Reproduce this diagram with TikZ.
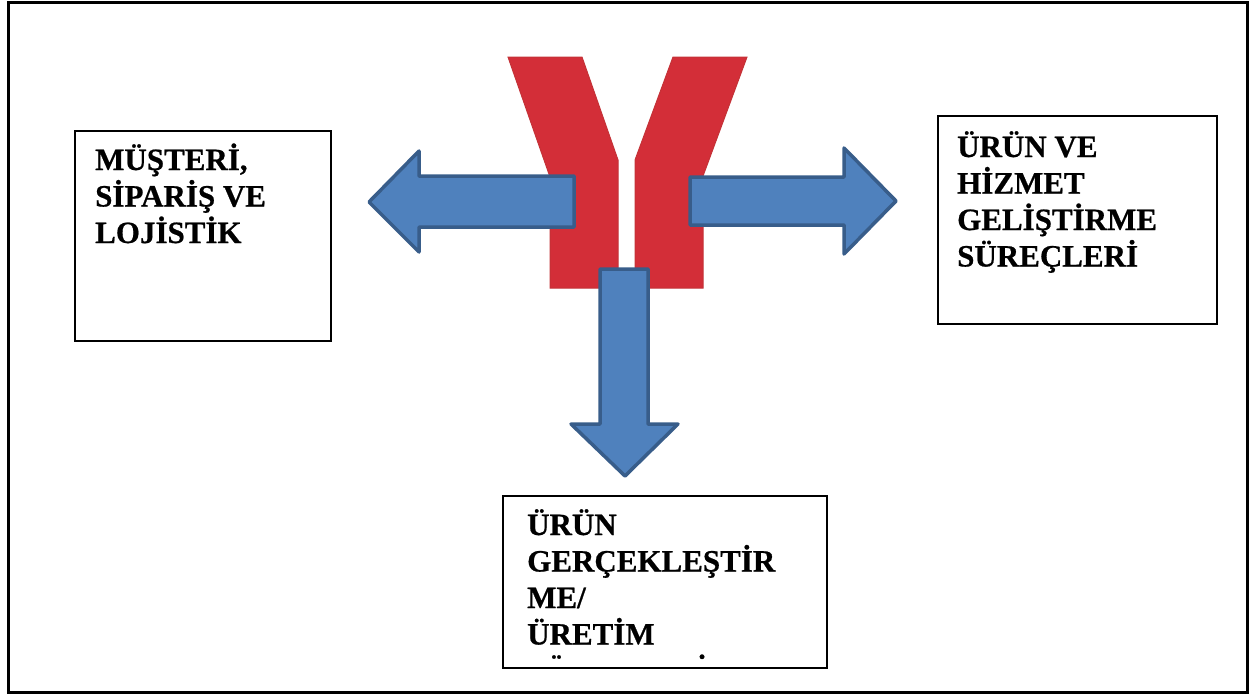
\documentclass[tikz,border=0pt]{standalone}
\usepackage{fontspec}
\setmainfont[BoldFeatures={FakeBold=0.6}]{Liberation Serif}
\definecolor{yred}{RGB}{211,46,56}
\definecolor{yedge}{RGB}{196,50,55}
\definecolor{afill}{RGB}{79,129,189}
\definecolor{aline}{RGB}{56,93,138}
\tikzset{
  boxnode/.style={draw=black, line width=1.5pt, anchor=north west, inner sep=0pt, fill=white},
  txt/.style={anchor=base west, inner sep=0pt, font=\bfseries\fontsize{31}{36.5}\selectfont},
  bigarrow/.style={fill=afill, draw=aline, line width=3.5pt, line join=round},
  yarm/.style={fill=yred, draw=yedge, line width=1pt}
}
\begin{document}
\begin{tikzpicture}[x=1pt,y=-1pt]
\useasboundingbox (0,0) rectangle (1249,697);
\draw[line width=3pt] (8,2.5) rectangle (1247,692.5);
% Y shape
\filldraw[yarm] (508,57) -- (582,57) -- (618,160) -- (618,288) -- (550,288) -- (550,177) -- cycle;
\filldraw[yarm] (673,57) -- (747,57) -- (703,176) -- (703,288) -- (635,288) -- (635,160) -- cycle;
% boxes
\node[boxnode, minimum width=256pt, minimum height=210pt] (lbox) at (74,130) {};
\node[boxnode, minimum width=279pt, minimum height=208pt] (rbox) at (937,115) {};
\node[boxnode, minimum width=324pt, minimum height=172pt] (bbox) at (502,495) {};
% arrows
\draw[bigarrow] (574,176) -- (419,176) -- (419,151) -- (369,202) -- (419,252) -- (419,227) -- (574,227) -- cycle;
\draw[bigarrow] (690,177) -- (844,177) -- (844,148) -- (896,201) -- (844,254) -- (844,225) -- (690,225) -- cycle;
\draw[bigarrow] (600,269) -- (648,269) -- (648,424) -- (678,424) -- (625,476) -- (571,424) -- (600,424) -- cycle;
% texts
\node[txt] (ltext) at (95,170) {\vtop{\hbox{MÜŞTERİ,}\hbox{SİPARİŞ VE}\hbox{LOJİSTİK}}};
\node[txt] (rtext) at (957,157) {\vtop{\hbox{ÜRÜN VE}\hbox{HİZMET}\hbox{GELİŞTİRME}\hbox{SÜREÇLERİ}}};
\begin{scope}
\clip (503,496) rectangle (825,659);
\node[txt] (btext) at (527,535) {\vtop{\hbox{ÜRÜN}\hbox{GERÇEKLEŞTİR}\hbox{ME/}\hbox{ÜRETİM}\hbox{SÜREÇLERİ}}};
\end{scope}
\end{tikzpicture}
\end{document}
